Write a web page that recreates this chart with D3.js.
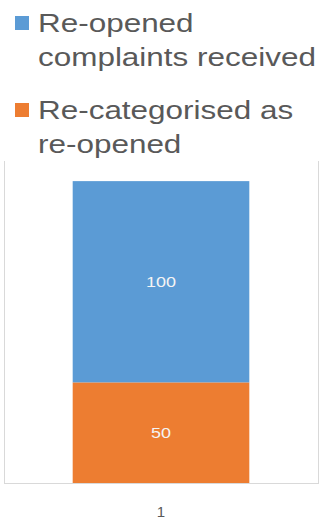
<!DOCTYPE html>
<html>
<head>
<meta charset="utf-8">
<script src="https://cdn.jsdelivr.net/npm/d3@7"></script>
<style>
  html, body { margin: 0; padding: 0; background: #fff; }
  svg { display: block; }
</style>
</head>
<body>
<div id="chart"></div>
<script>
const categories = ["1"];
const seriesNames = ["Re-categorised as re-opened", "Re-opened complaints received"];
const recategorised = [50];
const reopened = [100];
const legendLines = [
  ["Re-opened", "complaints received"],
  ["Re-categorised as", "re-opened"]
];

const width = 322;
const height = 521;
const colors = { "Re-opened complaints received": "#5b9bd5", "Re-categorised as re-opened": "#ed7d31" };

const rows = categories.map((c, i) => ({
  cat: c,
  "Re-categorised as re-opened": recategorised[i],
  "Re-opened complaints received": reopened[i]
}));

const svg = d3.select("#chart").append("svg")
  .attr("width", width)
  .attr("height", height);

const plot = { left: 4, right: 318, top: 161, bottom: 483 };

const x = d3.scaleBand()
  .domain(categories)
  .range([plot.left, plot.right])
  .padding(0.28);

const y = d3.scaleLinear()
  .domain([0, 160])
  .range([plot.bottom, plot.top]);

const stack = d3.stack().keys(seriesNames);
const layers = stack(rows);

// frame: left, right and bottom lines
const frame = svg.append("g").attr("stroke", "#d9d9d9").attr("stroke-width", 1);
frame.append("line").attr("x1", plot.left + 0.5).attr("x2", plot.left + 0.5).attr("y1", plot.top).attr("y2", plot.bottom);
frame.append("line").attr("x1", plot.right + 0.5).attr("x2", plot.right + 0.5).attr("y1", plot.top).attr("y2", plot.bottom);

const layer = svg.selectAll(".layer")
  .data(layers)
  .enter()
  .append("g")
  .attr("class", "layer")
  .attr("fill", (d) => colors[d.key]);

layer.selectAll("rect")
  .data((d) => d)
  .enter()
  .append("rect")
  .attr("x", (d) => x(d.data.cat))
  .attr("width", x.bandwidth())
  .attr("y", (d) => y(d[1]))
  .attr("height", (d) => y(d[0]) - y(d[1]));

layer.selectAll("text")
  .data((d) => d)
  .enter()
  .append("text")
  .attr("transform", (d) => `translate(${x(d.data.cat) + x.bandwidth() / 2},${(y(d[0]) + y(d[1])) / 2}) scale(1.2,1)`)
  .attr("dy", "0.36em")
  .attr("text-anchor", "middle")
  .style("font-family", "'Liberation Sans', Arial, sans-serif")
  .style("font-size", "15px")
  .style("fill", "#f4f4f4")
  .text((d) => d[1] - d[0]);

const xAxis = svg.append("g")
  .attr("transform", `translate(0,${plot.bottom + 0.5})`)
  .call(d3.axisBottom(x).tickSize(0).tickPadding(23));
xAxis.select(".domain").attr("stroke", "#d9d9d9").attr("d", `M${plot.left},0H${plot.right + 1}`);
xAxis.selectAll("text")
  .style("font-family", "'Liberation Sans', Arial, sans-serif")
  .style("font-size", "15px")
  .style("fill", "#595959");

// legend, blue series first
const legendOrder = ["Re-opened complaints received", "Re-categorised as re-opened"];
const legendTops = [16, 103];
const legend = svg.selectAll(".legend")
  .data(legendOrder)
  .enter()
  .append("g")
  .attr("class", "legend")
  .attr("transform", (d, i) => `translate(15,${legendTops[i]})`);

legend.append("rect")
  .attr("width", 14)
  .attr("height", 14)
  .attr("fill", (d) => colors[d]);

legend.each(function (d, i) {
  const g = d3.select(this);
  legendLines[i].forEach((line, j) => {
    g.append("text")
      .attr("transform", `translate(23,${16 + j * 34}) scale(1.21,1)`)
      .style("font-family", "'Liberation Sans', Arial, sans-serif")
      .style("font-size", "26px")
      .style("fill", "#595959")
      .text(line);
  });
});
</script>
</body>
</html>
